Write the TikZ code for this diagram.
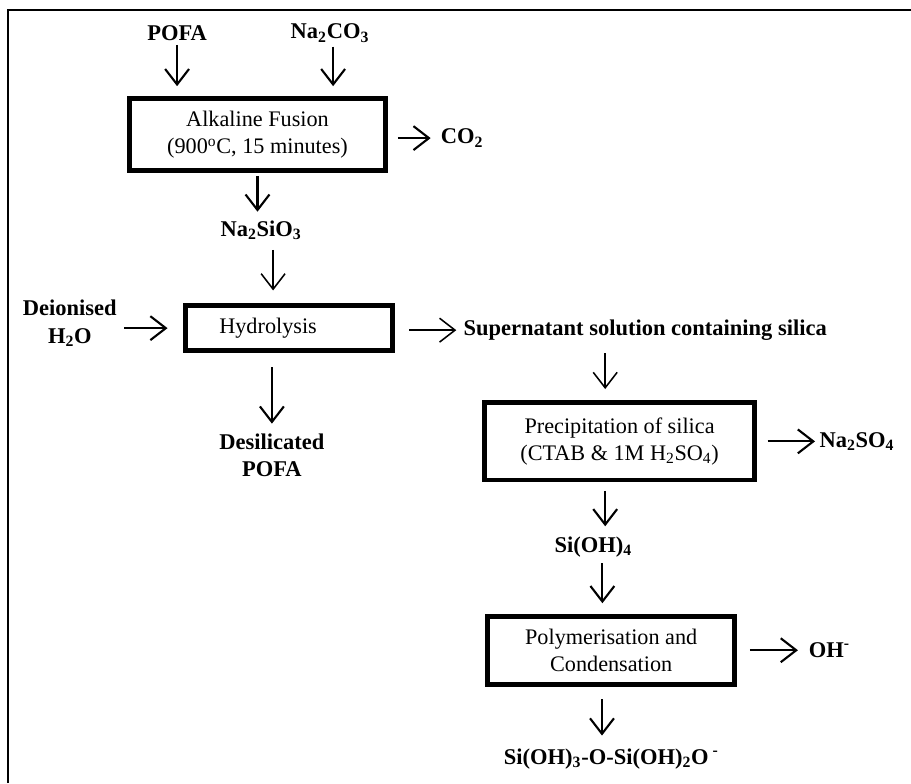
\documentclass[tikz,border=0pt]{standalone}
\usepackage{fontspec}
\setmainfont{Liberation Serif}
\usetikzlibrary{arrows.meta,positioning}
\newcommand{\chemsub}[1]{\textsubscript{#1}}

\begin{document}
\begin{tikzpicture}[x=0.025cm, y=-0.025cm,
    font=\fontsize{15.8}{19.5}\selectfont,
    proc/.style={draw, rectangle, line width=3.5pt, align=center, inner sep=2pt},
    lbl/.style={font=\fontsize{16}{19.5}\selectfont\bfseries, align=center, inner sep=1pt},
    arr/.style={-{Straight Barb[length=11pt,width=17pt]}, line width=1.5pt},
    thinarr/.style={arr, line width=1.1pt}]
    % canvas and frame
    \useasboundingbox (0,0) rectangle (911,783);
    \draw[line width=1.6pt] (8,783) -- (8,10) -- (911,10);

    % process boxes and streams
    \node[proc, minimum width=6.4cm, minimum height=1.8cm] (fusion) at (257.5,134.5) {Alkaline Fusion\\(900\textsuperscript{o}C, 15 minutes)};
    \node[lbl, above of=fusion, node distance=2.54cm, xshift=-2.01cm] (pofa) {POFA};
    \node[lbl, above of=fusion, node distance=2.54cm, xshift=1.81cm] (na2co3) {Na\chemsub{2}CO\chemsub{3}};
    \node[lbl, right of=fusion, node distance=5.11cm, yshift=-0.09cm] (co2) {CO\chemsub{2}};
    \node[lbl, below of=fusion, node distance=2.39cm, xshift=0.09cm] (na2sio3) {Na\chemsub{2}SiO\chemsub{3}};

    \node[proc, minimum width=5.18cm, minimum height=1.13cm, below of=fusion, node distance=4.84cm, xshift=0.79cm] (hydro) {Hydrolysis\hspace*{1.05cm}};
    \node[lbl, left of=hydro, node distance=5.48cm, yshift=0.12cm] (deion) {Deionised\\H\chemsub{2}O};
    \node[lbl, below of=hydro, node distance=3.18cm, xshift=-0.43cm] (desil) {Desilicated\\POFA};
    \node[lbl, right of=hydro, node distance=8.9cm, yshift=-0.05cm] (super) {Supernatant solution containing silica};

    \node[proc, minimum width=6.75cm, minimum height=1.93cm, below of=super, node distance=2.78cm, xshift=-0.64cm] (precip) {Precipitation of silica\\(CTAB \& 1M H\chemsub{2}SO\chemsub{4})};
    \node[lbl, right of=precip, node distance=5.93cm] (na2so4) {Na\chemsub{2}SO\chemsub{4}};
    \node[lbl, below of=precip, node distance=2.63cm, xshift=-0.66cm] (sioh4) {Si(OH)\chemsub{4}};

    \node[proc, minimum width=6.18cm, minimum height=1.7cm, below of=sioh4, node distance=2.59cm, xshift=0.45cm] (poly) {Polymerisation and\\Condensation};
    \node[lbl, right of=poly, node distance=5.45cm] (oh) {OH\textsuperscript{-}};
    \node[lbl, below of=poly, node distance=2.71cm] (final) {Si(OH)\chemsub{3}-O-Si(OH)\chemsub{2}O\textsuperscript{ -}};

    % arrows
    \draw[arr, shorten <=2pt, shorten >=7pt] (pofa.south) -- (pofa.south |- fusion.north);
    \draw[arr, shorten <=2pt, shorten >=7pt] ([xshift=0.08cm]na2co3.south) -- ([xshift=0.08cm]na2co3.south |- fusion.north);
    \draw[arr, shorten <=7pt, shorten >=6pt] (fusion.east |- co2.west) -- (co2.west);
    \draw[arr, shorten <=2pt, shorten >=5pt] (fusion.south) -- (fusion.south |- na2sio3.north);
    \draw[thinarr, shorten <=6pt, shorten >=9pt] ([xshift=0.3cm]na2sio3.south) -- ([xshift=0.3cm]na2sio3.south |- hydro.north);
    \draw[arr, shorten <=4pt, shorten >=11pt] (deion.east |- hydro.west) -- (hydro.west);
    \draw[arr, shorten <=10pt, shorten >=6pt] (hydro.south -| desil.north) -- (desil.north);
    \draw[thinarr, shorten <=10pt, shorten >=4pt] (hydro.east |- super.west) -- (super.west);
    \draw[thinarr, shorten <=8pt, shorten >=8pt] ([xshift=-1cm]super.south) -- ([xshift=-1cm]super.south |- precip.north);
    \draw[arr, shorten <=7.5pt, shorten >=2pt] (precip.east) -- (precip.east -| na2so4.west);
    \draw[arr, shorten <=6pt, shorten >=6pt] ([xshift=-0.36cm]precip.south) -- ([xshift=-0.36cm]precip.south |- sioh4.north);
    \draw[arr, shorten <=3.5pt, shorten >=7.5pt] ([xshift=0.23cm]sioh4.south) -- ([xshift=0.23cm]sioh4.south |- poly.north);
    \draw[arr, shorten <=9pt, shorten >=6.5pt] (poly.east) -- (poly.east -| oh.west);
    \draw[arr, shorten <=9pt, shorten >=8pt] ([xshift=-0.23cm]poly.south) -- ([xshift=-0.23cm]poly.south |- final.north);
\end{tikzpicture}
\end{document}
